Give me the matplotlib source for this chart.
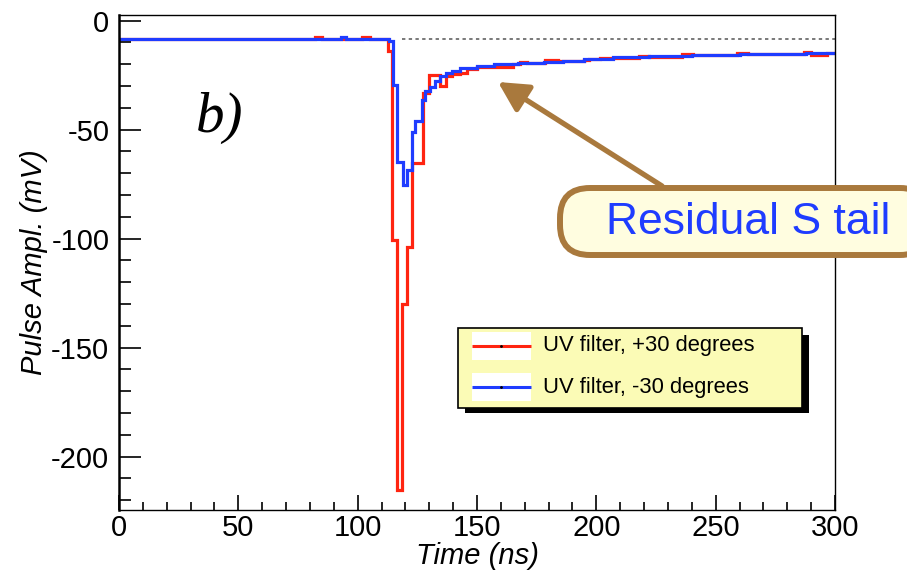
import numpy as np
import matplotlib
matplotlib.use("Agg")
import matplotlib.pyplot as plt
from matplotlib.patches import FancyBboxPatch, Rectangle
from matplotlib.ticker import MultipleLocator

plt.rcParams['font.family'] = ['Liberation Sans', 'DejaVu Sans']
plt.rcParams['axes.unicode_minus'] = False

# step histograms: bin edges (ns) and contents (mV)
red_edges = [0, 82, 85, 102, 105, 112.5, 114.3, 116.3, 118.4, 120.5, 122.6, 127.5,
             130, 134.3, 137, 139.5, 143, 146, 150, 157, 165, 168, 171, 178.5, 184,
             195, 197, 201.5, 205, 218, 222, 236, 240.5, 259, 263.5, 287, 290, 296.6, 300]
red_vals = [-8.5, -7.6, -8.5, -7.6, -8.5, -13.9, -100.8, -215.4, -130, -103.9, -65.4,
            -33, -24.7, -30, -25.5, -24.5, -24, -22.3, -21.2, -21.4, -20, -19, -19.4,
            -18.1, -18.6, -18, -17.6, -17, -16.9, -16.0, -16.5, -15.5, -15.9, -14.8,
            -15.2, -14.4, -15.6, -14.7]

blue_edges = [0, 93, 95, 113, 115, 116.3, 119.1, 120.5, 122.6, 124.0, 126.8, 128.2,
              130.3, 132.5, 134.5, 137, 139.5, 143, 150, 157, 167, 178, 186, 195, 207,
              222, 240, 260, 288, 300]
blue_vals = [-8.5, -7.7, -8.5, -9.5, -29.3, -64.7, -75.4, -68.5, -51.3, -46.2, -36.2,
             -32.4, -30.4, -27.5, -25.5, -24, -23, -21.6, -20.8, -20.1, -19.3, -18.8,
             -18.3, -17.5, -16.8, -16.4, -15.8, -15.2, -14.7]

baseline = -8.5
baseline_from = 118.4
labels = ["UV filter, +30 degrees", "UV filter, -30 degrees"]

RED = '#ff2410'
BLUE = '#1f3cff'
BROWN = '#a9793d'

fig = plt.figure(figsize=(9.07, 5.75), dpi=100)
ax = fig.add_axes([119/907, 1-510/575, (835-119)/907, (510-15)/575])

ax.stairs(red_vals, red_edges, baseline=None, color=RED, lw=2.3)
ax.stairs(blue_vals, blue_edges, baseline=None, color=BLUE, lw=2.3)
ax.hlines(baseline, baseline_from, 300, colors='#555555', lw=1.1, linestyles=(0, (2.2, 2.2)))

ax.set_xlim(0, 300)
ax.set_ylim(-224.5, 2.6)
ax.xaxis.set_major_locator(MultipleLocator(50))
ax.xaxis.set_minor_locator(MultipleLocator(10))
ax.yaxis.set_major_locator(MultipleLocator(50))
ax.yaxis.set_minor_locator(MultipleLocator(10))
ax.tick_params(axis='both', which='both', direction='in', top=False, right=False,
               labelsize=21, width=1.2)
ax.tick_params(axis='y', which='major', length=16, pad=7)
ax.tick_params(axis='y', which='minor', length=8.5)
ax.tick_params(axis='x', which='major', length=11, pad=3)
ax.tick_params(axis='x', which='minor', length=5.5)
ax.spines['left'].set_linewidth(1.8)
for s in ['top', 'right', 'bottom']:
    ax.spines[s].set_linewidth(1.0)

ax.set_xlabel("Time (ns)", fontsize=21, style='italic', labelpad=0)
ax.set_ylabel("Pulse Ampl. (mV)", fontsize=21, style='italic', labelpad=2)

ax.text(0.108, 0.765, "b)", transform=ax.transAxes, fontsize=41, style='italic',
        family='Liberation Serif', va='baseline', ha='left')

# legend drawn by hand (ROOT style with shadow)
def fx(px):
    return (px - 119) / 716.0

def fy(py):
    return (510 - py) / 495.0

ax.add_patch(Rectangle((fx(465), fy(413)), fx(809) - fx(465), fy(335) - fy(413),
                       transform=ax.transAxes, facecolor='black', edgecolor='none', zorder=5))
ax.add_patch(Rectangle((fx(458), fy(408)), fx(802) - fx(458), fy(328) - fy(408),
                       transform=ax.transAxes, facecolor='#fbfbb6', edgecolor='black',
                       lw=1.2, zorder=6))
for i, (lab, col) in enumerate(zip(labels, [RED, BLUE])):
    yc = 346 + 41 * i
    ax.add_patch(Rectangle((fx(472), fy(yc + 14)), fx(531) - fx(472), fy(yc - 14) - fy(yc + 14),
                           transform=ax.transAxes, facecolor='white', edgecolor='none', zorder=7))
    ax.plot([fx(472), fx(531)], [fy(yc), fy(yc)], transform=ax.transAxes, color=col,
            lw=2.2, zorder=8, solid_capstyle='butt')
    ax.plot([fx(501)], [fy(yc)], transform=ax.transAxes, marker='.', ms=2, color='black', zorder=9)
    ax.text(fx(543), fy(yc), lab, transform=ax.transAxes, fontsize=15.8, va='center',
            ha='left', zorder=9)

# callout box with arrow
box = FancyBboxPatch((fx(560), fy(255)), fx(930) - fx(560), fy(188) - fy(255),
                     boxstyle="round,pad=0,rounding_size=0.042", mutation_aspect=716/495,
                     transform=ax.transAxes, facecolor='#fffde0', edgecolor=BROWN,
                     lw=4.3, clip_on=False, zorder=10)
ax.add_patch(box)
ax.text(fx(606), fy(222), "Residual S tail", transform=ax.transAxes, fontsize=32,
        color=BLUE, va='center', ha='left', zorder=11, clip_on=False)
ax.annotate("", xy=(fx(498), fy(82)), xycoords=ax.transAxes,
            xytext=(fx(662), fy(186)), textcoords=ax.transAxes,
            arrowprops=dict(arrowstyle='-|>,head_length=1.8,head_width=0.95', color=BROWN,
                            lw=3.8, shrinkA=0, shrinkB=0), zorder=9)

fig.savefig("out.png", dpi=100)
